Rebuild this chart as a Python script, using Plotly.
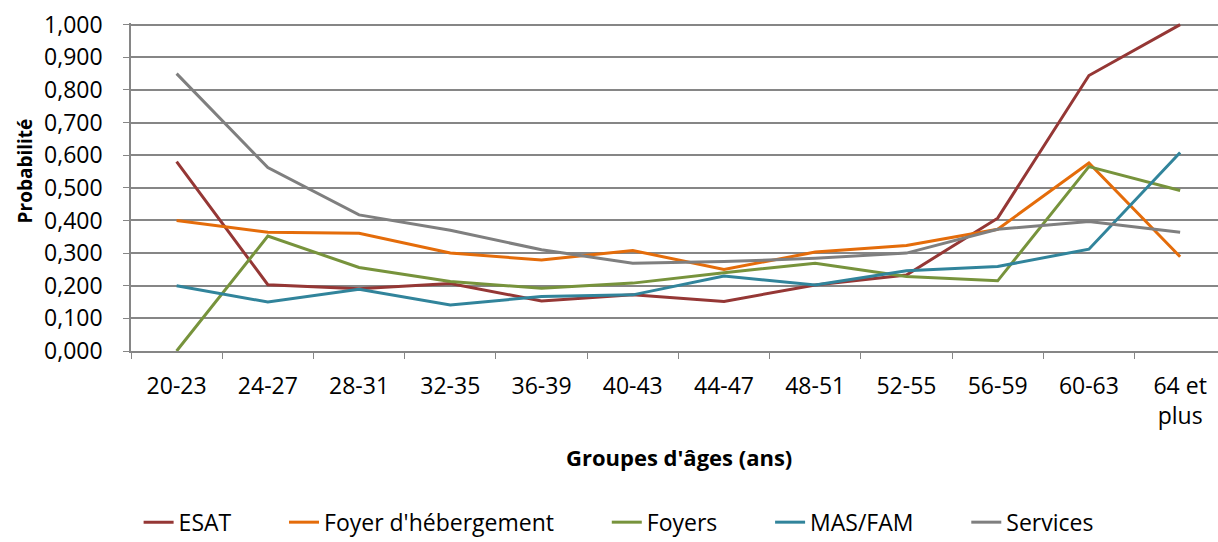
import plotly.graph_objects as go

age_groups = ["20-23", "24-27", "28-31", "32-35", "36-39", "40-43", "44-47",
              "48-51", "52-55", "56-59", "60-63", "64 et<br>plus"]

esat = [0.580, 0.203, 0.191, 0.207, 0.153, 0.172, 0.152, 0.202, 0.233, 0.407, 0.844, 1.000]
foyer_heb = [0.400, 0.364, 0.361, 0.300, 0.279, 0.308, 0.250, 0.303, 0.323, 0.373, 0.576, 0.289]
foyers = [0.000, 0.352, 0.256, 0.213, 0.192, 0.208, 0.240, 0.269, 0.228, 0.215, 0.565, 0.492]
mas_fam = [0.200, 0.150, 0.189, 0.141, 0.167, 0.172, 0.230, 0.202, 0.246, 0.259, 0.312, 0.608]
services = [0.850, 0.562, 0.417, 0.370, 0.310, 0.269, 0.274, 0.284, 0.300, 0.373, 0.397, 0.364]

series = [
    ("ESAT", esat, "#953735"),
    ("Foyer d'hébergement", foyer_heb, "#E46C0A"),
    ("Foyers", foyers, "#77933C"),
    ("MAS/FAM", mas_fam, "#31849B"),
    ("Services", services, "#7F7F7F"),
]

FONT = "Open Sans"
AXIS_GREY = "#868686"
PAD = "\u00a0" * 8  # extra room between legend entries, like the Excel legend

fig = go.Figure()
for name, vals, col in series:
    fig.add_trace(go.Scatter(x=age_groups, y=vals, name=name + PAD, mode="lines",
                             line=dict(color=col, width=3)))

fig.update_layout(
    width=1218, height=542,
    margin=dict(l=131, r=0, t=23, b=191, autoexpand=False),
    plot_bgcolor="white", paper_bgcolor="white",
    separators=", ",
    font=dict(family=FONT, size=23, color="#000000"),
    showlegend=True,
    legend=dict(orientation="h", x=0.007, xanchor="left", y=-0.522, yanchor="middle",
                font=dict(size=23), itemwidth=30, tracegroupgap=0),
    annotations=[
        dict(text="<b>Groupes d'âges (ans)</b>", xref="paper", yref="paper",
             x=0.504, y=-0.323, xanchor="center", yanchor="middle",
             showarrow=False, font=dict(size=22)),
        dict(text="<b>Probabilité</b>", xref="paper", yref="paper",
             x=-0.098, y=0.549, xanchor="center", yanchor="middle",
             textangle=-90, showarrow=False, font=dict(size=19)),
    ],
)
fig.update_xaxes(
    type="category", range=[-0.5, 11.415],
    showline=True, linecolor=AXIS_GREY, linewidth=1.5,
    ticks="outside", tickson="boundaries", ticklen=6, tickcolor=AXIS_GREY,
    showgrid=False, tickfont=dict(size=23), ticklabelstandoff=14,
)
fig.update_yaxes(
    range=[0, 1.005], dtick=0.1, tickformat=".3f",
    showline=True, linecolor=AXIS_GREY, linewidth=1.5,
    ticks="outside", ticklen=6, tickcolor=AXIS_GREY,
    showgrid=True, gridcolor=AXIS_GREY, gridwidth=1.5, zeroline=False,
    tickfont=dict(size=23), ticklabelstandoff=16,
)

# the page's default body margin would push the figure 8px down and right
fig.write_html("out.html", config={"displayModeBar": False},
               post_script="document.body.style.margin='0';"
                           "document.body.style.overflow='hidden';")
